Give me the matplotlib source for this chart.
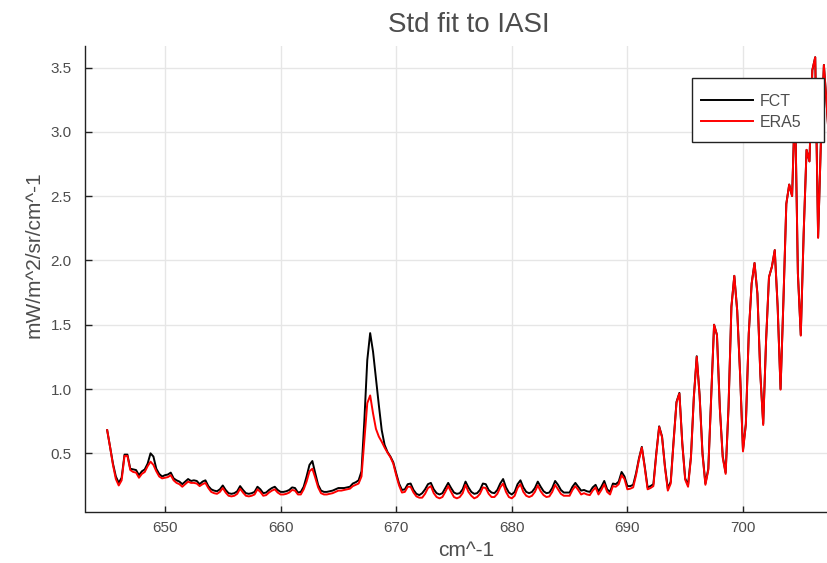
import numpy as np
import matplotlib
matplotlib.use("Agg")
import matplotlib.pyplot as plt
from matplotlib.patches import Rectangle

plt.rcParams['font.family'] = ['Liberation Sans', 'DejaVu Sans']

# Wavenumber grid (cm^-1), 0.25 cm^-1 sampling
wn_start = 645.0
wn_step = 0.25

# Standard deviation of the fit to IASI, FCT run
fct = [
    0.68, 0.55, 0.42, 0.32, 0.27, 0.31, 0.49, 0.49, 0.38, 0.375,
    0.37, 0.33, 0.36, 0.375, 0.42, 0.50, 0.475, 0.38, 0.34, 0.32,
    0.33, 0.335, 0.35, 0.305, 0.29, 0.28, 0.26, 0.28, 0.30, 0.285,
    0.29, 0.285, 0.26, 0.28, 0.29, 0.245, 0.22, 0.21, 0.205, 0.22,
    0.25, 0.215, 0.19, 0.185, 0.19, 0.205, 0.245, 0.215, 0.19, 0.185,
    0.19, 0.20, 0.24, 0.22, 0.19, 0.195, 0.215, 0.23, 0.24, 0.215,
    0.20, 0.20, 0.205, 0.215, 0.235, 0.23, 0.195, 0.20, 0.24, 0.32,
    0.41, 0.44, 0.345, 0.255, 0.21, 0.20, 0.20, 0.205, 0.21, 0.22,
    0.23, 0.23, 0.23, 0.235, 0.24, 0.265, 0.275, 0.29, 0.36, 0.76,
    1.225, 1.435, 1.29, 1.08, 0.875, 0.68, 0.565, 0.51, 0.475, 0.43,
    0.345, 0.265, 0.215, 0.22, 0.26, 0.265, 0.215, 0.185, 0.175, 0.19,
    0.22, 0.26, 0.27, 0.22, 0.19, 0.18, 0.19, 0.23, 0.27, 0.23,
    0.195, 0.185, 0.19, 0.22, 0.28, 0.235, 0.20, 0.185, 0.19, 0.215,
    0.265, 0.26, 0.215, 0.195, 0.19, 0.215, 0.265, 0.30, 0.235, 0.195,
    0.18, 0.20, 0.26, 0.29, 0.235, 0.20, 0.19, 0.20, 0.23, 0.28,
    0.24, 0.205, 0.19, 0.195, 0.23, 0.285, 0.255, 0.215, 0.195, 0.195,
    0.195, 0.24, 0.27, 0.24, 0.21, 0.215, 0.205, 0.20, 0.235, 0.255,
    0.205, 0.24, 0.285, 0.22, 0.20, 0.265, 0.26, 0.28, 0.355, 0.32,
    0.245, 0.245, 0.255, 0.345, 0.46, 0.55, 0.40, 0.235, 0.245, 0.26,
    0.50, 0.71, 0.63, 0.40, 0.225, 0.28, 0.60, 0.90, 0.97, 0.58,
    0.305, 0.255, 0.475, 0.94, 1.255, 0.95, 0.50, 0.265, 0.38, 0.95,
    1.50, 1.42, 0.85, 0.475, 0.35, 0.86, 1.64, 1.88, 1.61, 1.12,
    0.525, 0.73, 1.43, 1.82, 1.98, 1.74, 1.12, 0.73, 1.38, 1.87,
    1.95, 2.08, 1.64, 1.00, 1.69, 2.44, 2.59, 2.50, 3.25, 1.90,
    1.42, 2.21, 2.86, 2.77, 3.48, 3.58, 2.18, 2.95, 3.52, 3.20,
    2.85,
]

# Standard deviation of the fit to IASI, ERA5 run
era5 = [
    0.68, 0.55, 0.41, 0.30, 0.25, 0.29, 0.48, 0.48, 0.37, 0.355,
    0.35, 0.31, 0.34, 0.355, 0.40, 0.435, 0.41, 0.36, 0.32, 0.305,
    0.31, 0.315, 0.33, 0.29, 0.27, 0.26, 0.24, 0.26, 0.28, 0.27,
    0.27, 0.265, 0.245, 0.26, 0.27, 0.23, 0.20, 0.19, 0.185, 0.20,
    0.23, 0.195, 0.17, 0.165, 0.17, 0.185, 0.225, 0.195, 0.17, 0.165,
    0.17, 0.18, 0.22, 0.20, 0.17, 0.175, 0.195, 0.21, 0.22, 0.195,
    0.18, 0.18, 0.185, 0.195, 0.215, 0.21, 0.18, 0.18, 0.22, 0.28,
    0.36, 0.38, 0.31, 0.235, 0.19, 0.18, 0.18, 0.185, 0.19, 0.20,
    0.21, 0.21, 0.215, 0.22, 0.225, 0.245, 0.255, 0.265, 0.32, 0.60,
    0.89, 0.95, 0.81, 0.69, 0.63, 0.59, 0.545, 0.505, 0.47, 0.42,
    0.33, 0.25, 0.195, 0.20, 0.24, 0.24, 0.195, 0.165, 0.155, 0.155,
    0.185, 0.23, 0.245, 0.19, 0.16, 0.15, 0.16, 0.20, 0.245, 0.20,
    0.16, 0.15, 0.16, 0.19, 0.255, 0.20, 0.17, 0.15, 0.16, 0.185,
    0.235, 0.23, 0.185, 0.16, 0.16, 0.185, 0.235, 0.265, 0.20, 0.16,
    0.15, 0.17, 0.23, 0.26, 0.20, 0.17, 0.16, 0.17, 0.20, 0.25,
    0.205, 0.175, 0.16, 0.165, 0.20, 0.255, 0.22, 0.185, 0.17, 0.17,
    0.17, 0.215, 0.245, 0.215, 0.18, 0.19, 0.18, 0.175, 0.21, 0.235,
    0.18, 0.215, 0.26, 0.20, 0.18, 0.245, 0.24, 0.26, 0.33, 0.30,
    0.22, 0.225, 0.235, 0.33, 0.45, 0.545, 0.39, 0.22, 0.23, 0.245,
    0.49, 0.705, 0.625, 0.39, 0.21, 0.265, 0.59, 0.895, 0.965, 0.575,
    0.295, 0.24, 0.465, 0.935, 1.25, 0.945, 0.49, 0.255, 0.37, 0.945,
    1.50, 1.42, 0.845, 0.465, 0.34, 0.855, 1.64, 1.88, 1.61, 1.115,
    0.515, 0.725, 1.43, 1.82, 1.98, 1.74, 1.115, 0.72, 1.38, 1.87,
    1.95, 2.08, 1.64, 0.995, 1.69, 2.44, 2.59, 2.50, 3.25, 1.90,
    1.415, 2.21, 2.86, 2.77, 3.48, 3.58, 2.175, 2.95, 3.52, 3.20,
    2.85,
]

series_labels = ["FCT", "ERA5"]
series_colors = ["black", "red"]
title_text = "Std fit to IASI"
xlabel_text = "cm^-1"
ylabel_text = "mW/m^2/sr/cm^-1"
xticks = [650, 660, 670, 680, 690, 700]
yticks = [0.5, 1.0, 1.5, 2.0, 2.5, 3.0, 3.5]

wn = wn_start + wn_step * np.arange(len(fct))

W, H = 828, 563
fig = plt.figure(figsize=(W / 100, H / 100), dpi=100)

# x limits widened by 3% of the data span on each side
span = wn.max() - wn.min()
xlo, xhi = wn.min() - 0.03 * span, wn.max() + 0.03 * span
px_per_unit_x = 11.56
ax_left = 85.5
ax_width = (xhi - xlo) * px_per_unit_x
ax_bottom = 511.7
ylo, yhi = 0.046, 3.67
ax_height = (yhi - ylo) * 128.6
ax = fig.add_axes([ax_left / W, (H - ax_bottom) / H, ax_width / W, ax_height / H])

for vals, lab, col in zip([fct, era5], series_labels, series_colors):
    ax.plot(wn, vals, color=col, lw=1.4, label=lab, zorder=2)

ax.set_xlim(xlo, xhi)
ax.set_ylim(ylo, yhi)
ax.set_xticks(xticks)
ax.set_yticks(yticks)
ax.set_xticklabels([str(t) for t in xticks])
ax.set_yticklabels([f"{t:.1f}" for t in yticks])

ax.grid(True, color='#e6e6e6', lw=1.0)
ax.set_axisbelow(True)
for s in ['top', 'right']:
    ax.spines[s].set_visible(False)
for s in ['left', 'bottom']:
    ax.spines[s].set_color('#222222')
    ax.spines[s].set_linewidth(1.0)

txt_col = '#4d4d4d'
ax.tick_params(axis='x', direction='in', length=4, width=1, color='#222222',
               labelsize=11, labelcolor=txt_col, pad=7)
ax.tick_params(axis='y', direction='in', length=5, width=1, color='#222222',
               labelsize=11, labelcolor=txt_col, pad=10)

ax.set_title(title_text, fontsize=20, color=txt_col, pad=10)
ax.set_xlabel(xlabel_text, fontsize=15, color=txt_col)
ax.set_ylabel(ylabel_text, fontsize=15, color=txt_col)
ax.xaxis.set_label_coords((466 - ax_left) / ax_width, (ax_bottom - 541) / ax_height)
ax.yaxis.set_label_coords((44 - ax_left) / ax_width, (ax_bottom - 255) / ax_height)

# legend box: white panel with a dark border, entries placed inside it
box_l, box_r, box_t, box_b = 692, 824, 77.7, 142
panel = Rectangle((box_l / W, 1 - box_b / H), (box_r - box_l) / W, (box_b - box_t) / H,
                  transform=fig.transFigure, facecolor='white', edgecolor='#222222',
                  lw=1.0, zorder=4)
fig.patches.append(panel)
leg = fig.legend(*ax.get_legend_handles_labels(), loc='upper left',
                 bbox_to_anchor=(701 / W, 1 - 94 / H), borderaxespad=0,
                 borderpad=0, frameon=False, fontsize=11.5,
                 handlelength=3.25, handletextpad=0.4, labelspacing=0.37)
leg.set_zorder(5)
for t in leg.get_texts():
    t.set_color(txt_col)

fig.savefig("out.png", dpi=100)
